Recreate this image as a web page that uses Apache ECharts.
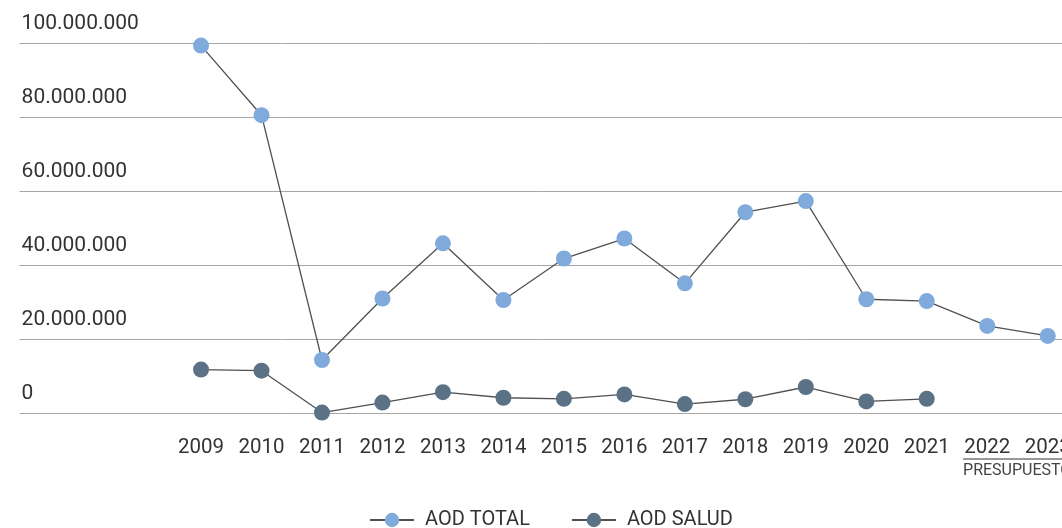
<!DOCTYPE html>
<html>
<head>
<meta charset="utf-8">
<script src="https://cdn.jsdelivr.net/npm/echarts@6/dist/echarts.min.js"></script>
<style>html,body{margin:0;padding:0;background:#fff;}#c{width:1062px;height:528px;}</style>
</head>
<body>
<div id="c"></div>
<script>
// Categories (three leading blanks and one trailing blank keep the layout of the original)
var years = ['', '', '', '2009', '2010', '2011', '2012', '2013', '2014', '2015', '2016', '2017', '2018', '2019', '2020', '2021', '2022', '2023', ''];
var aodTotal = [null, null, null, 99300000, 80500000, 14400000, 31000000, 45900000, 30600000, 41800000, 47200000, 35100000, 54300000, 57300000, 30800000, 30300000, 23600000, 20900000, null];
var aodSalud = [null, null, null, 11800000, 11500000, 200000, 2900000, 5700000, 4200000, 3900000, 5100000, 2500000, 3800000, 7100000, 3200000, 3900000, null, null, null];
var seriesNames = ['AOD TOTAL', 'AOD SALUD'];
var budgetLabel = 'PRESUPUESTO';

var chart = echarts.init(document.getElementById('c'));
var FONT = 'Roboto';
function fmt(v) {
  return String(v).replace(/\B(?=(\d{3})+(?!\d))/g, '.');
}
chart.setOption({
  animation: false,
  textStyle: { fontFamily: FONT },
  grid: { left: 19.6, top: 43, width: 1088.6, height: 370.3, containLabel: false, outerBoundsMode: 'none' },
  xAxis: {
    type: 'category',
    data: years,
    boundaryGap: false,
    axisLine: { show: false },
    axisTick: { show: false },
    splitLine: { show: false },
    axisLabel: { color: '#333', fontSize: 20.5, fontFamily: FONT, margin: 24, interval: 0 }
  },
  yAxis: {
    type: 'value',
    min: 0, max: 100000000, interval: 20000000,
    axisLine: { show: false },
    axisTick: { show: false },
    splitLine: { lineStyle: { color: '#a6a6a6', width: 1 } },
    axisLabel: {
      inside: true, margin: 2, align: 'left', verticalAlign: 'bottom',
      padding: [0, 0, 9, 0],
      color: '#333', fontSize: 21, fontFamily: FONT,
      formatter: function (v) { return fmt(v); }
    }
  },
  legend: {
    left: 364, top: 505,
    itemWidth: 44, itemHeight: 18, itemGap: 41,
    textStyle: { color: '#333', fontSize: 20, fontFamily: FONT, padding: [0, 0, 0, 6] },
    data: seriesNames
  },
  series: [
    {
      name: seriesNames[0], type: 'line', data: aodTotal,
      symbol: 'circle', symbolSize: 16,
      lineStyle: { color: '#505050', width: 1.3 },
      itemStyle: { color: '#80aadb' }
    },
    {
      name: seriesNames[1], type: 'line', data: aodSalud,
      symbol: 'circle', symbolSize: 16,
      lineStyle: { color: '#505050', width: 1.3 },
      itemStyle: { color: '#5a7186' }
    }
  ]
});

// Budget annotation under 2022-2023, placed from the axis scale
function drawBudget() {
  var p22 = chart.convertToPixel({ xAxisIndex: 0 }, '2022');
  var p23 = chart.convertToPixel({ xAxisIndex: 0 }, '2023');
  var x0 = p22 - (p23 - p22) * 0.4;
  chart.setOption({
    graphic: [
      { type: 'line', shape: { x1: x0, y1: 459, x2: 1062, y2: 459 }, style: { stroke: '#333', lineWidth: 1.2 } },
      { type: 'text', x: x0, y: 471, style: { text: budgetLabel, fill: '#444', font: '16px ' + FONT, textVerticalAlign: 'middle', textAlign: 'left' } }
    ]
  });
}
drawBudget();
</script>
</body>
</html>
